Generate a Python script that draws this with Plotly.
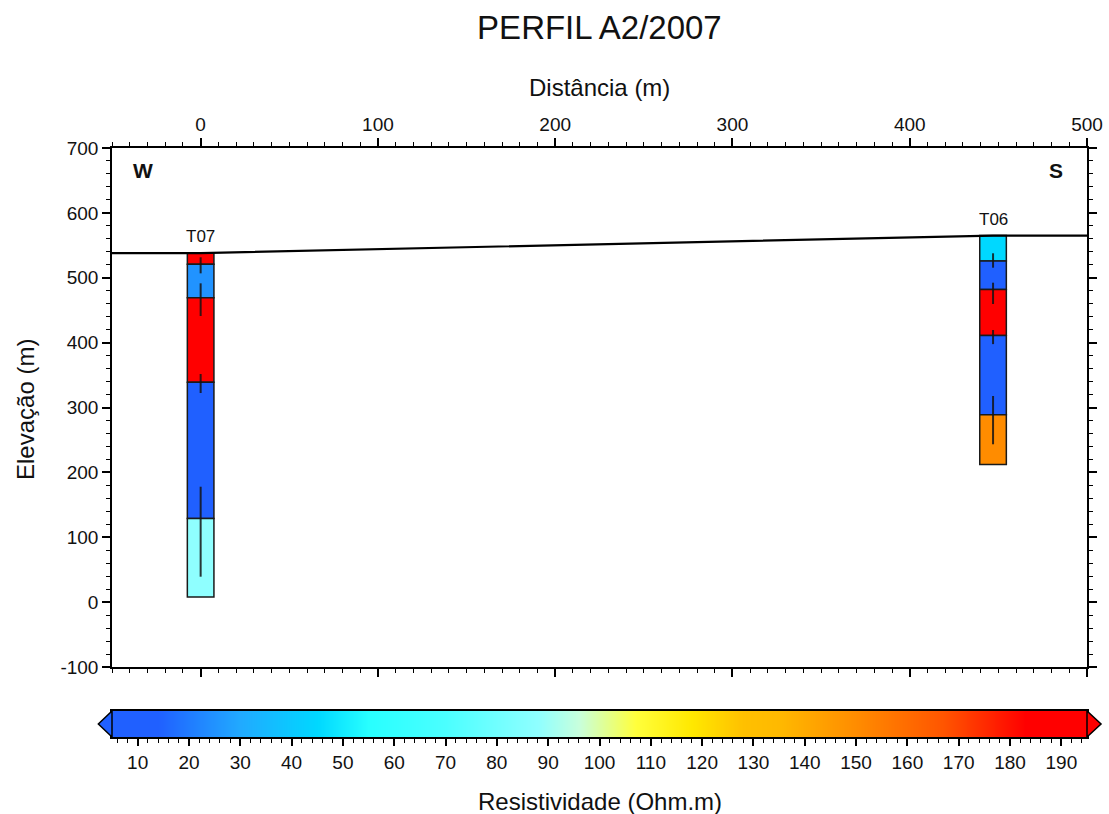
import plotly.graph_objects as go

# ---- data -------------------------------------------------------------
# Ground surface profile (distance m, elevation m)
surface_x = [-50, 0, 447, 500]
surface_z = [538, 538, 565, 565]

# Borehole / sounding T07
t07_x = 0
t07_tops = [538, 521, 469, 339, 129]
t07_bottom = 8
t07_rho = [190, 25, 190, 10, 88]
t07_err_low = [506.8, 441.0, 322.3, 39.2]
t07_err_high = [531.5, 491.4, 351.6, 177.9]

# Sounding T06
t06_x = 447
t06_tops = [565, 526, 482, 411, 289]
t06_bottom = 212
t06_rho = [45, 10, 190, 10, 150]
t06_err_low = [515.5, 459.5, 397.7, 243.3]
t06_err_high = [537.7, 492.4, 419.5, 317.7]

# Elevation axis ticks
elev_ticks = [-100, 0, 100, 200, 300, 400, 500, 600, 700]
elev_labels = ["-100", "0", "100", "200", "300", "400", "500", "600", "700"]

# Colour scale limits (Ohm.m)
rho_min, rho_max = 5, 195
rho_ticks = [10, 20, 30, 40, 50, 60, 70, 80, 90, 100,
             110, 120, 130, 140, 150, 160, 170, 180, 190]

# Resistivity colour ramp: (value, colour)
ramp = [
    (5, "rgb(32,96,255)"),
    (14, "rgb(32,96,255)"),
    (30, "rgb(33,170,255)"),
    (45, "rgb(0,216,255)"),
    (55, "rgb(40,255,255)"),
    (70, "rgb(75,255,255)"),
    (88, "rgb(143,255,255)"),
    (96, "rgb(200,255,220)"),
    (107, "rgb(255,255,60)"),
    (118, "rgb(255,232,0)"),
    (128, "rgb(255,192,0)"),
    (135, "rgb(255,185,0)"),
    (150, "rgb(255,140,0)"),
    (167, "rgb(255,85,0)"),
    (183, "rgb(255,0,0)"),
    (195, "rgb(255,0,0)"),
]
colorscale = [[(v - rho_min) / (rho_max - rho_min), c] for v, c in ramp]

FONT = "Arial, Liberation Sans, sans-serif"
INK = "#111111"

fig = go.Figure()


def sounding(x0, tops, bottom, rho, lo, hi, name):
    bottoms = tops[1:] + [bottom]
    fig.add_trace(go.Bar(
        x=[x0] * len(tops),
        y=[t - b for t, b in zip(tops, bottoms)],
        base=bottoms,
        width=15,
        marker=dict(color=rho, colorscale=colorscale, cmin=rho_min, cmax=rho_max,
                    line=dict(color="#1a1a1a", width=1.5)),
        showlegend=False, hoverinfo="skip", name=name,
    ))
    xs, ys = [], []
    for a, b in zip(lo, hi):
        xs += [x0, x0, None]
        ys += [a, b, None]
    fig.add_trace(go.Scatter(x=xs, y=ys, mode="lines",
                             line=dict(color="rgba(20,20,20,0.85)", width=2),
                             showlegend=False, hoverinfo="skip"))
    fig.add_annotation(x=x0, y=tops[0], text=name, showarrow=False,
                       yanchor="bottom", yshift=5,
                       font=dict(family=FONT, size=17, color=INK))


sounding(t07_x, t07_tops, t07_bottom, t07_rho, t07_err_low, t07_err_high, "T07")
sounding(t06_x, t06_tops, t06_bottom, t06_rho, t06_err_low, t06_err_high, "T06")

# ground surface
fig.add_trace(go.Scatter(x=surface_x, y=surface_z, mode="lines",
                         line=dict(color="black", width=2.2),
                         showlegend=False, hoverinfo="skip"))

# colour bar drawn as a smooth heatmap on its own axes
fig.add_trace(go.Heatmap(
    x=[rho_min, rho_max], y=[0, 1],
    z=[[rho_min, rho_max], [rho_min, rho_max]],
    colorscale=colorscale, zmin=rho_min, zmax=rho_max, zsmooth="best",
    showscale=False, hoverinfo="skip", xaxis="x2", yaxis="y2",
))

# end triangles of the colour bar
fig.add_shape(type="path", xref="x2 domain", yref="y2 domain",
              path="M 0,0 L -0.014,0.5 L 0,1 Z",
              fillcolor="rgb(32,96,255)", line=dict(color="black", width=1.5))
fig.add_shape(type="path", xref="x2 domain", yref="y2 domain",
              path="M 1,0 L 1.0144,0.5 L 1,1 Z",
              fillcolor="rgb(255,0,0)", line=dict(color="black", width=1.5))

tickfont = dict(family=FONT, size=19, color=INK)

fig.update_layout(
    width=1109, height=814,
    margin=dict(l=112, r=22, t=148, b=77, autoexpand=False),
    paper_bgcolor="white", plot_bgcolor="white",
    barmode="overlay",
    title=dict(text="PERFIL A2/2007", x=0.5405, xanchor="center",
               y=1 - 27 / 814, yanchor="middle",
               font=dict(family=FONT, size=33, color=INK)),
    xaxis=dict(
        domain=[0, 1], anchor="y", side="top", automargin=False,
        range=[-50, 500], tick0=0, dtick=100,
        ticks="outside", ticklen=8, tickwidth=1.5, tickcolor="black",
        minor=dict(dtick=10, ticklen=4, tickwidth=1.2, tickcolor="black", ticks="outside"),
        showline=True, linecolor="black", linewidth=1.5, mirror="ticks",
        showgrid=False, zeroline=False, tickfont=tickfont,
    ),
    yaxis=dict(
        domain=[70 / 589, 1], anchor="x", automargin=False,
        range=[-100, 700], tickvals=elev_ticks, ticktext=elev_labels,
        ticks="outside", ticklen=8, tickwidth=1.5, tickcolor="black",
        minor=dict(dtick=20, tick0=0, ticklen=4, tickwidth=1.2, tickcolor="black", ticks="outside"),
        showline=True, linecolor="black", linewidth=1.5, mirror="ticks",
        showgrid=False, zeroline=False, tickfont=tickfont,
    ),
    xaxis2=dict(
        domain=[0, 1], anchor="y2", side="bottom", automargin=False,
        range=[rho_min, rho_max], tickvals=rho_ticks,
        ticks="outside", ticklen=7, tickwidth=1.5, tickcolor="black",
        minor=dict(dtick=2, tick0=0, ticklen=4, tickwidth=1.2, tickcolor="black", ticks="outside"),
        showline=True, linecolor="black", linewidth=1.5, mirror=True,
        showgrid=False, zeroline=False, tickfont=tickfont,
    ),
    yaxis2=dict(
        domain=[0, 26 / 589], anchor="x2", range=[0, 1], automargin=False,
        showticklabels=False, ticks="", showgrid=False, zeroline=False,
        showline=True, linecolor="black", linewidth=1.5, mirror=True,
    ),
)

# axis titles and side labels
ann_font = dict(family=FONT, size=24, color=INK)
fig.add_annotation(text="Distância (m)", xref="paper", yref="paper",
                   x=0.5, y=(737 - 88) / 589, showarrow=False,
                   xanchor="center", yanchor="middle", font=ann_font)
fig.add_annotation(text="Elevação (m)", xref="paper", yref="paper",
                   x=(25 - 112) / 975, y=(737 - 410) / 589, showarrow=False,
                   textangle=-90, xanchor="center", yanchor="middle", font=ann_font)
fig.add_annotation(text="Resistividade (Ohm.m)", xref="paper", yref="paper",
                   x=0.5, y=(737 - 801) / 589, showarrow=False,
                   xanchor="center", yanchor="middle", font=ann_font)
fig.add_annotation(text="<b>W</b>", x=-32.7, y=666, showarrow=False,
                   font=dict(family=FONT, size=21, color=INK))
fig.add_annotation(text="<b>S</b>", x=482.5, y=666, showarrow=False,
                   font=dict(family=FONT, size=21, color=INK))

fig.write_html("out.html")
